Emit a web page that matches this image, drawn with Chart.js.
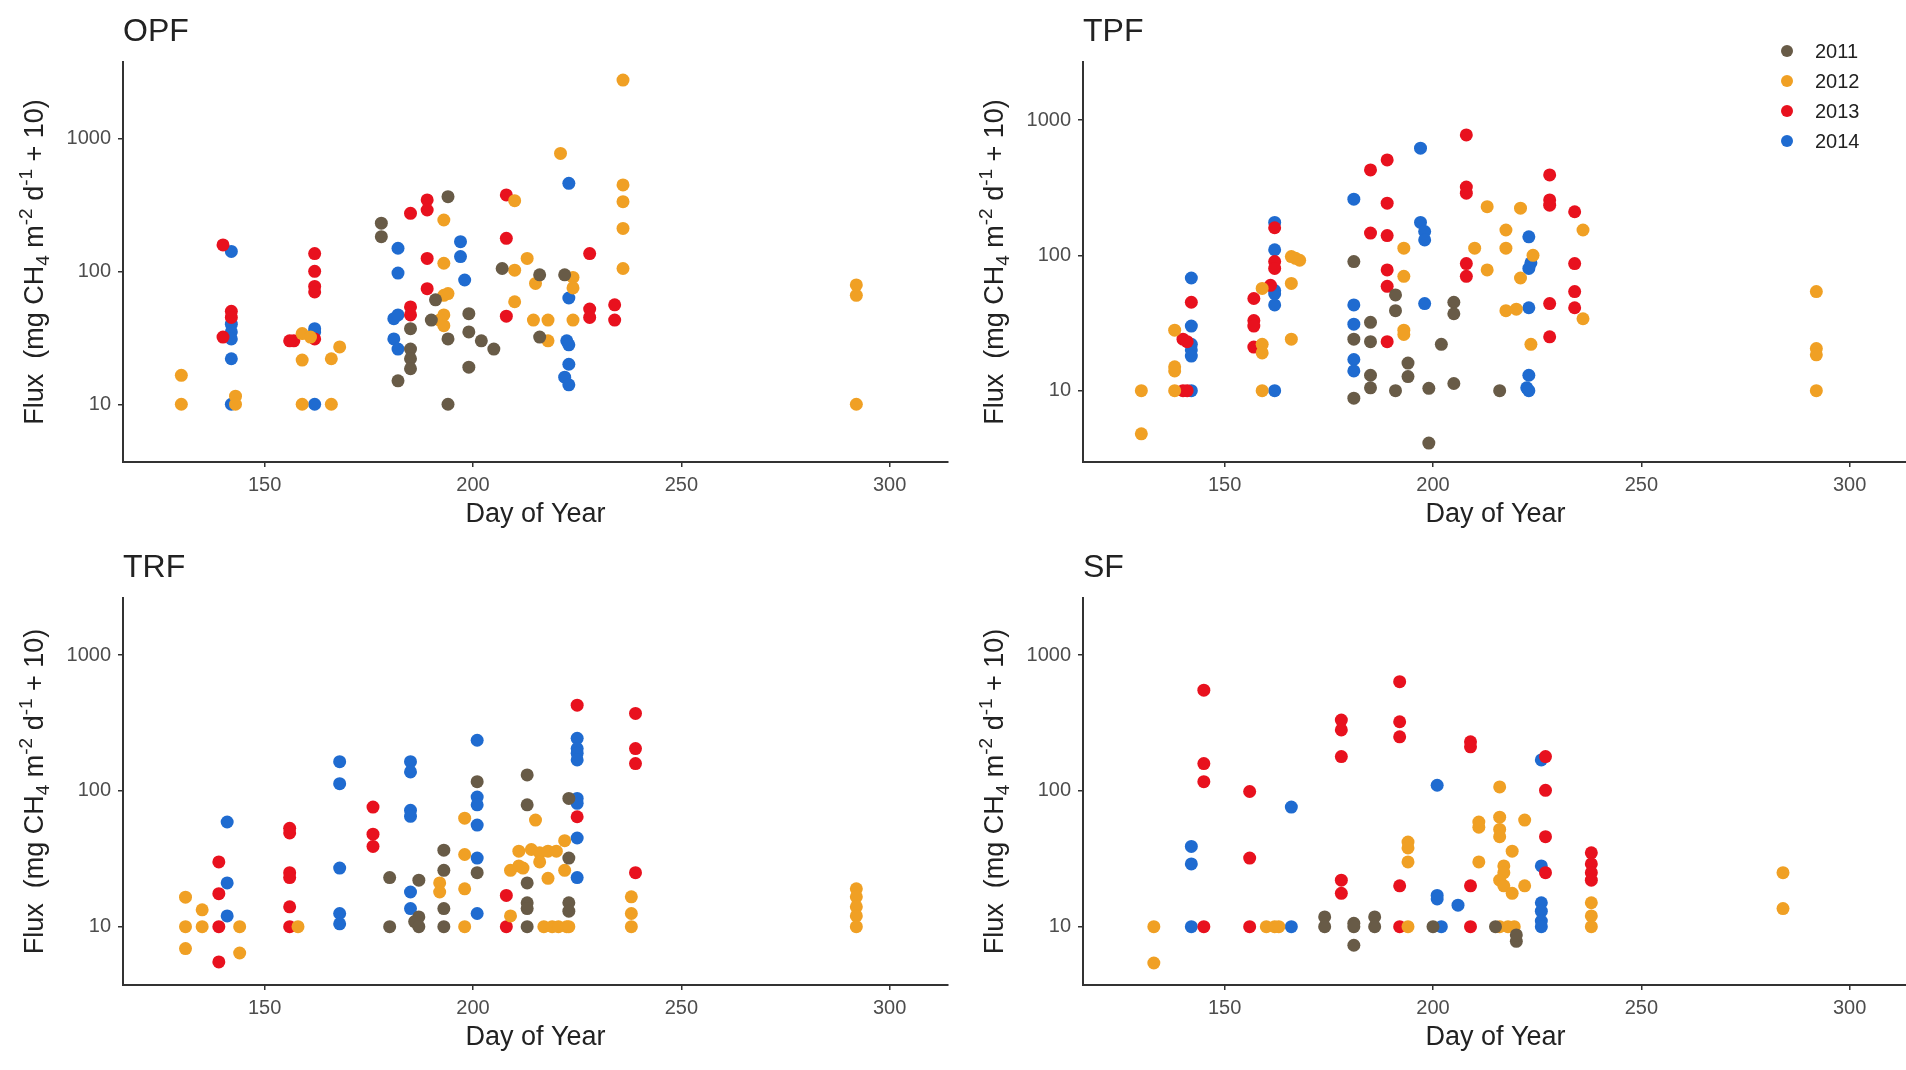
<!DOCTYPE html>
<html>
<head>
<meta charset="utf-8">
<script src="https://cdn.jsdelivr.net/npm/chart.js@4.4.1/dist/chart.umd.min.js"></script>
<style>
  html, body { margin: 0; padding: 0; background: #fff; overflow: hidden; width: 1906px; height: 1070px; }
  canvas { position: absolute; }
</style>
</head>
<body>
<canvas id="opf" width="960" height="535" style="left:0;top:0"></canvas>
<canvas id="tpf" width="960" height="535" style="left:960px;top:0"></canvas>
<canvas id="trf" width="960" height="535" style="left:0;top:535px"></canvas>
<canvas id="sf" width="960" height="535" style="left:960px;top:535px"></canvas>
<script>
const years = ['2011', '2012', '2013', '2014'];
const yearColors = ['#685b47', '#f0a024', '#e8111e', '#1f6bd0'];
const xTicks = [150, 200, 250, 300];
const yTicks = [10, 100, 1000];

// [day of year, flux + 10]
const opf2011 = [[178,230],[178,182],[182,15],[185,37],[185,26],[185,22],[185,18.5],[194,364],[191,61],[190,43],[194,31],[194,10],[199,48],[199,35],[199,19],[202,30],[205,26],[207,105],[216,94],[216,32],[222,94]];
const opf2012 = [[130,16.5],[130,10],[143,11.5],[143,10],[159,34],[161,32],[159,21.5],[159,10],[166,10],[166,22],[168,27],[193,243],[193,115],[193,66],[194,68],[193,47],[192,43],[193,39],[210,102],[210,340],[213,125],[210,59],[215,81],[214.5,43],[218,43],[218,30],[224,90],[224,75],[224,43],[221,770],[236,2740],[236,446],[236,334],[236,210],[236,105],[292,79],[292,66],[292,10]];
const opf2013 = [[140,158],[142,50],[142,45],[140,32],[162,136],[162,100],[162,77],[162,70],[162,31],[157,30],[156,30],[185,54],[185,47],[185,273],[189,344],[189,289],[189,125],[189,74],[208,375],[208,177],[208,46],[228,136],[228,52],[228,45],[234,56],[234,43]];
const opf2014 = [[142,141],[142,40],[142,35],[142,31],[142,22],[142,10],[162,37],[162,35],[162,10],[182,149],[182,97],[181,44],[182,47],[181,31],[182,26],[197,167],[197,129],[198,86],[223,459],[223,63],[222.5,30],[223,28],[223,20],[222,16],[223,14]];

const tpf2011 = [[181,90],[181,24],[181,8.8],[185,32],[185,23],[185,13],[185,10.5],[191,51],[191,39],[191,10],[194,16],[194,12.7],[199,10.4],[199,4.1],[205,45],[205,37],[202,22],[205,11.3],[216,10]];
const tpf2012 = [[130,10],[130,4.8],[138,28],[138,14],[138,15],[138,10],[159,57],[159,22],[159,19],[159,10],[166,98],[167,95],[168,92],[166,62],[166,24],[193,113],[193,70],[193,28],[193,26],[213,229],[221,223],[236,154],[217.5,154],[217.5,113],[210,113],[213,78],[224,100],[221,68],[236,34],[217.5,39],[220,40],[223.5,22],[292,54],[292,20.5],[292,18.4],[292,10]];
const tpf2013 = [[140,24],[141,23],[140,10],[141,10],[142,45],[157,48],[157,33],[157,30],[157,21],[162,160],[162,90],[162,80],[161,60],[185,428],[185,146],[189,507],[189,243],[189,140],[189,78],[189,59],[189,23],[208,776],[208,320],[208,288],[228,393],[228,257],[228,235],[234,210],[208,87],[208,70],[234,87],[234,54],[234,41],[228,44],[228,25]];
const tpf2014 = [[142,10],[142,68],[142,30],[142,22],[142,20],[142,18],[162,10],[162,175],[162,110],[162,55],[162,52],[162,43],[181,260],[181,43],[181,31],[181,17],[181,14],[197,620],[197,175],[198,150],[198,130],[198,44],[223,137],[223.5,88],[223,80],[223,41],[223,13],[222.5,10.5],[223,10]];

const trf2011 = [[180,23],[180,10],[187,22],[187,11.8],[186,10.9],[187,10],[193,36.6],[193,26],[193,13.6],[193,10],[201,117],[201,25],[213,131],[213,79],[213,21],[213,15],[213,13.6],[213,10],[223,88],[223,32],[223,15],[223,13]];
const trf2012 = [[131,16.5],[135,13.3],[131,10],[135,10],[131,6.9],[144,10],[144,6.4],[158,10],[192,21],[192,18],[198,63],[198,34],[198,19],[198,10],[209,26],[209,12],[215,61],[211,36],[214,37],[216,35],[218,36],[220,36],[211,28],[212,27],[216,30],[218,22.7],[217,10],[219,10],[220.5,10],[222.5,10],[222,26],[222,43],[223,10],[238,16.6],[238,12.5],[238,10],[292,19],[292,16.6],[292,14],[292,12],[292,10]];
const trf2013 = [[139,30],[139,17.5],[139,10],[139,5.5],[156,53],[156,49],[156,25],[156,23],[156,14],[156,10],[176,76],[176,48],[176,39],[208,17],[208,10],[225,428],[225,64.5],[239,372],[239,205],[239,159],[239,25]];
const trf2014 = [[141,59],[141,21],[141,12],[168,164],[168,113],[168,27],[168,12.5],[168,10.5],[185,164],[185,138],[185,72],[185,65],[185,18],[185,13.6],[201,236],[201,90],[201,79],[201,56],[201,32],[201,12.5],[225,244],[225,205],[225,189],[225,169],[225,88],[225,81],[225,45],[225,23]];

const sf2011 = [[174,11.8],[174,10],[181,10.6],[181,10],[181,7.3],[186,11.8],[186,10],[200,10],[215,10],[220,7.8],[220,8.7]];
const sf2012 = [[133,10],[133,5.4],[160,10],[162,10],[163,10],[194,10],[194,42],[194,38],[194,30],[211,59],[211,54],[211,30],[216,107],[216,64],[216,52],[216,46],[217,28],[217,25],[216,22],[217,20],[219,36],[222,61],[219,17.6],[222,20],[216,10],[218,10],[219.5,10],[238,15],[238,12],[238,10],[284,25],[284,13.6]];
const sf2013 = [[145,552],[145,159],[145,117],[145,10],[156,99],[156,32],[156,10],[178,332],[178,281],[178,179],[178,22],[178,17.6],[192,637],[192,323],[192,250],[192,20],[192,10],[209,230],[209,211],[209,20],[209,10],[227,179],[227,101],[227,46],[227,25],[238,35],[238,29],[238,25],[238,22]];
const sf2014 = [[142,39],[142,29],[142,10],[166,76],[166,10],[201,110],[201,17],[201,16],[206,14.4],[202,10],[226,169],[226,28],[226,15],[226,13],[226,11],[226,10]];

const FONT = "'Liberation Sans', Arial, sans-serif";

function drawYTitle(ctx, x, y) {
  const big = 27, small = 19;
  const parts = [
    ['Flux  (mg CH', big, 0],
    ['4', small, 6],
    [' m', big, 0],
    ['-2', small, -11],
    [' d', big, 0],
    ['-1', small, -11],
    [' + 10)', big, 0]
  ];
  ctx.save();
  ctx.translate(x, y);
  ctx.rotate(-Math.PI / 2);
  ctx.fillStyle = '#222';
  ctx.textBaseline = 'alphabetic';
  ctx.textAlign = 'left';
  let total = 0;
  parts.forEach(p => { ctx.font = p[1] + 'px ' + FONT; total += ctx.measureText(p[0]).width; });
  let cx = -total / 2;
  parts.forEach(p => {
    ctx.font = p[1] + 'px ' + FONT;
    ctx.fillText(p[0], cx, p[2]);
    cx += ctx.measureText(p[0]).width;
  });
  ctx.restore();
}

const panelText = {
  id: 'panelText',
  afterDraw(chart, args, opts) {
    const ctx = chart.ctx;
    const area = chart.chartArea;
    ctx.save();
    ctx.fillStyle = '#222';
    ctx.textAlign = 'left';
    ctx.textBaseline = 'alphabetic';
    ctx.font = '32px ' + FONT;
    ctx.fillText(opts.title, area.left, area.top - 21);

    ctx.textAlign = 'center';
    ctx.font = '27px ' + FONT;
    ctx.fillText('Day of Year', (area.left + area.right) / 2, area.bottom + 60);
    drawYTitle(ctx, 43, (area.top + area.bottom) / 2);

    if (opts.legend) {
      ctx.textAlign = 'left';
      ctx.textBaseline = 'middle';
      ctx.font = '20px ' + FONT;
      years.forEach((yr, i) => {
        const y = 51 + i * 30;
        ctx.fillStyle = yearColors[i];
        ctx.beginPath();
        ctx.arc(827, y, 6, 0, Math.PI * 2);
        ctx.fill();
        ctx.fillStyle = '#222';
        ctx.fillText(yr, 855, y + 1);
      });
    }
    ctx.restore();
  }
};

function makeChart(id, title, series, yMin, yMax, padTop, xAxisH, legend) {
  const tickFont = { family: FONT, size: 20 };
  return new Chart(document.getElementById(id), {
    type: 'scatter',
    data: {
      datasets: years.map((yr, i) => ({
        label: yr,
        data: series[i].map(p => ({ x: p[0], y: p[1] })),
        backgroundColor: yearColors[i],
        borderWidth: 0,
        pointRadius: 6.5,
        pointHoverRadius: 6.5
      }))
    },
    options: {
      responsive: false,
      animation: false,
      devicePixelRatio: 1,
      layout: { padding: { left: 0, right: 12, top: padTop, bottom: 0 } },
      plugins: {
        legend: { display: false },
        tooltip: { enabled: false },
        panelText: { title: title, legend: legend }
      },
      scales: {
        x: {
          type: 'linear',
          min: 116,
          max: 314,
          afterBuildTicks: s => { s.ticks = xTicks.map(v => ({ value: v })); },
          afterFit: s => { s.height = xAxisH; },
          ticks: { font: tickFont, color: '#4d4d4d', padding: 6, maxRotation: 0, callback: v => String(v) },
          grid: { display: true, drawOnChartArea: false, drawTicks: true, tickLength: 5, color: '#333', lineWidth: 1.5 },
          border: { display: true, color: '#333', width: 2 }
        },
        y: {
          type: 'logarithmic',
          min: yMin,
          max: yMax,
          afterBuildTicks: s => { s.ticks = yTicks.map(v => ({ value: v })); },
          afterFit: s => { s.width = 123; },
          ticks: { font: tickFont, color: '#4d4d4d', padding: 7, callback: v => String(v) },
          grid: { display: true, drawOnChartArea: false, drawTicks: true, tickLength: 5, color: '#333', lineWidth: 1.5 },
          border: { display: true, color: '#333', width: 2 }
        }
      }
    },
    plugins: [panelText]
  });
}

makeChart('opf', 'OPF', [opf2011, opf2012, opf2013, opf2014], 3.68, 3750, 62, 73, false);
makeChart('tpf', 'TPF', [tpf2011, tpf2012, tpf2013, tpf2014], 2.97, 2685, 62, 73, true);
makeChart('trf', 'TRF', [trf2011, trf2012, trf2013, trf2014], 3.72, 2633, 63, 85, false);
makeChart('sf', 'SF', [sf2011, sf2012, sf2013, sf2014], 3.72, 2633, 63, 85, false);
</script>
</body>
</html>
